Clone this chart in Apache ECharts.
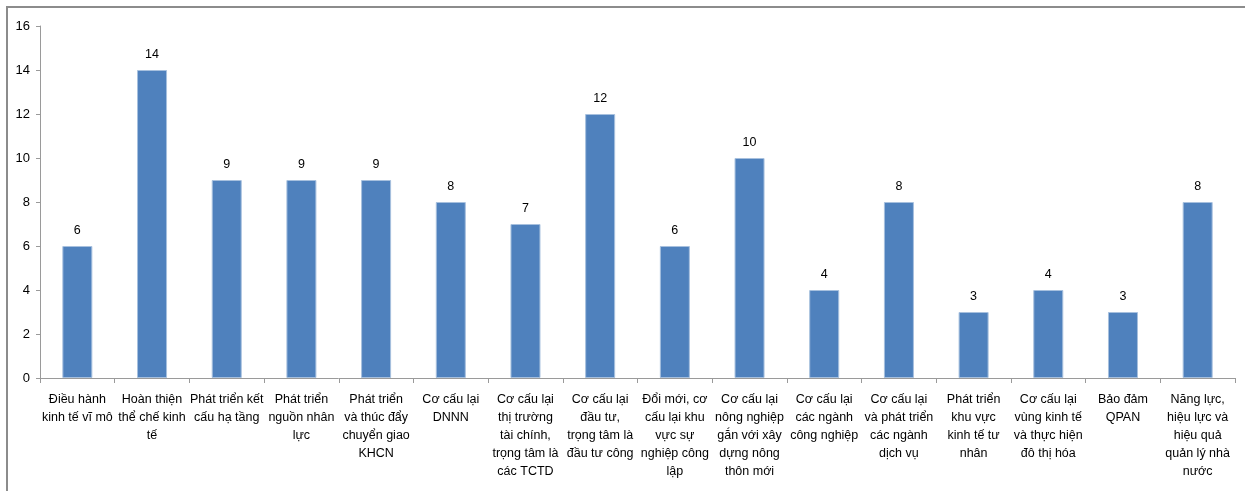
<!DOCTYPE html>
<html lang="vi">
<head>
    <meta charset="UTF-8">
    <title>Chart</title>
    <script src="https://cdn.jsdelivr.net/npm/echarts@6/dist/echarts.min.js"></script>
</head>
<style>
    *{
        margin: 0;
        padding: 0;
    }
    html,body{
        width: 100%;
        height: 100%;
        overflow: hidden;
        background: #fff;
    }
    .frame{
        position: absolute;
        left: 6px;
        top: 6px;
        width: 1260px;
        height: 500px;
        border: 2px solid #8c8c8c;
        box-sizing: border-box;
    }
    .container{
        position: absolute;
        left: 0;
        top: 0;
        width: 1245px;
        height: 491px;
    }
</style>
<body>
<div class="frame"></div>
<div class="container"></div>
<script>
    const categories = [
        'Điều hành\nkinh tế vĩ mô',
        'Hoàn thiện\nthể chế kinh\ntế',
        'Phát triển kết\ncấu hạ tầng',
        'Phát triển\nnguồn nhân\nlực',
        'Phát triển\nvà thúc đẩy\nchuyển giao\nKHCN',
        'Cơ cấu lại\nDNNN',
        'Cơ cấu lại\nthị trường\ntài chính,\ntrọng tâm là\ncác TCTD',
        'Cơ cấu lại\nđầu tư,\ntrọng tâm là\nđầu tư công',
        'Đổi mới, cơ\ncấu lại khu\nvực sự\nnghiệp công\nlập',
        'Cơ cấu lại\nnông nghiệp\ngắn với xây\ndựng nông\nthôn mới',
        'Cơ cấu lại\ncác ngành\ncông nghiệp',
        'Cơ cấu lại\nvà phát triển\ncác ngành\ndịch vụ',
        'Phát triển\nkhu vực\nkinh tế tư\nnhân',
        'Cơ cấu lại\nvùng kinh tế\nvà thực hiện\nđô thị hóa',
        'Bảo đảm\nQPAN',
        'Năng lực,\nhiệu lực và\nhiệu quả\nquản lý nhà\nnước'
    ];
    const values = [6, 14, 9, 9, 9, 8, 7, 12, 6, 10, 4, 8, 3, 4, 3, 8];

    let mycharts = echarts.init(document.querySelector('.container'));

    let option = {
        animation: false,
        grid: {
            left: 40,
            right: 10,
            top: 26,
            bottom: 113
        },
        xAxis: {
            type: 'category',
            data: categories,
            axisLine: {lineStyle: {color: '#9a9a9a', width: 1}},
            axisTick: {show: true, length: 5, lineStyle: {color: '#9a9a9a'}},
            axisLabel: {
                interval: 0,
                color: '#000',
                fontFamily: 'Liberation Sans, Arial',
                fontSize: 12.5,
                lineHeight: 18,
                margin: 13
            }
        },
        yAxis: {
            type: 'value',
            min: 0,
            max: 16,
            interval: 2,
            splitLine: {show: false},
            axisLine: {show: true, lineStyle: {color: '#9a9a9a'}},
            axisTick: {show: true, length: 4, lineStyle: {color: '#9a9a9a'}},
            axisLabel: {
                color: '#000',
                fontFamily: 'Liberation Sans, Arial',
                fontSize: 13,
                margin: 10
            }
        },
        series: [{
            type: 'bar',
            data: values,
            barWidth: 30,
            itemStyle: {
                color: '#4f81bd',
                borderColor: '#a7c0de',
                borderWidth: 1
            },
            label: {
                show: true,
                position: 'top',
                distance: 9,
                color: '#000',
                fontFamily: 'Liberation Sans, Arial',
                fontSize: 12.5
            }
        }]
    };

    mycharts.setOption(option);
</script>
</body>
</html>
